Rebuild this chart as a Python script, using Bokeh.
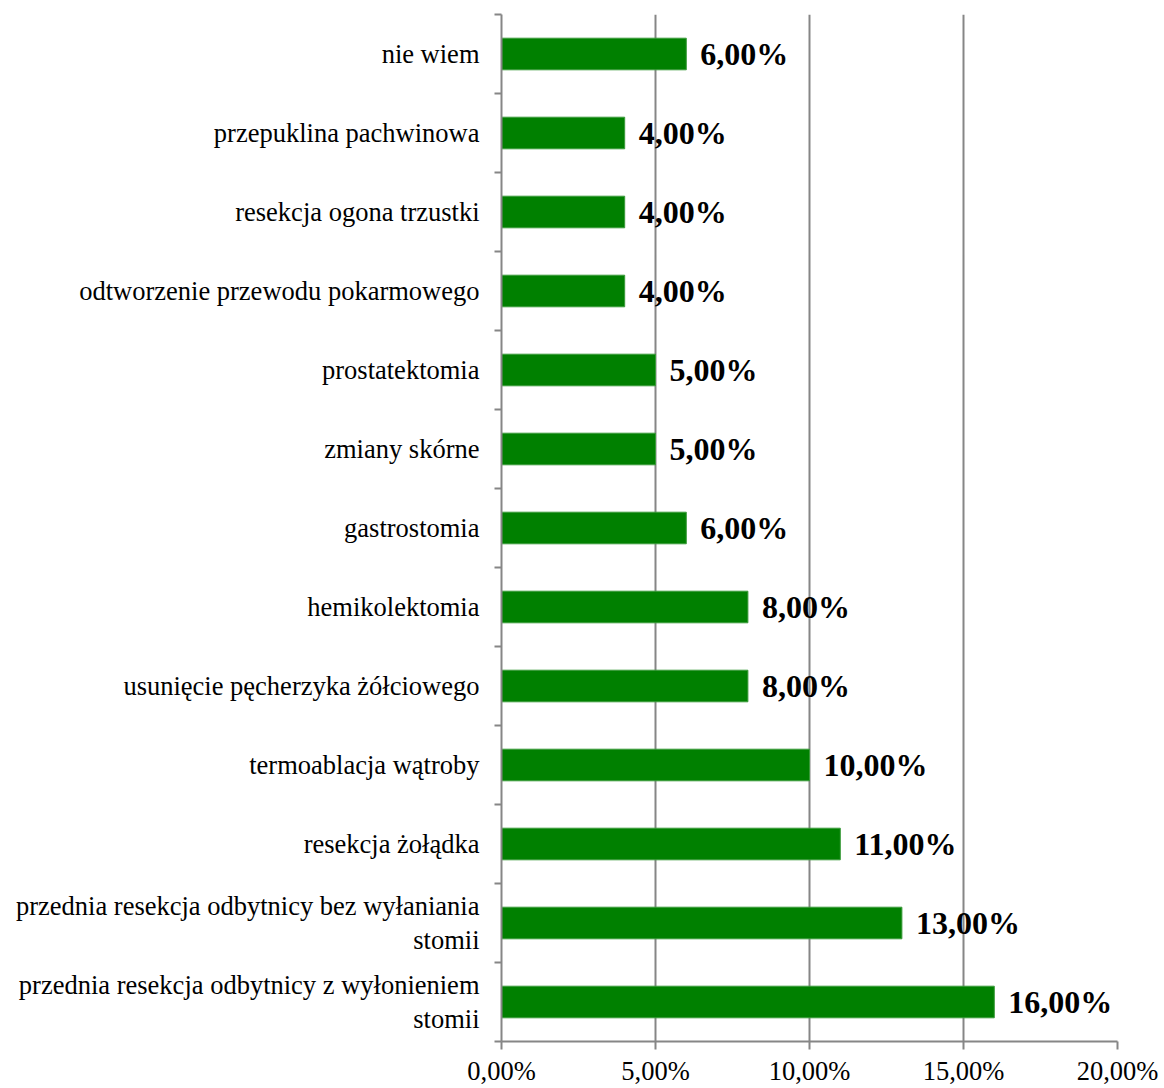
from bokeh.plotting import figure
from bokeh.models import FixedTicker, ColumnDataSource, Range1d
from bokeh.core.properties import value
from bokeh.embed import file_html
from bokeh.resources import INLINE

categories = [
    "przednia resekcja odbytnicy z wyłonieniem\nstomii",
    "przednia resekcja odbytnicy bez wyłaniania\nstomii",
    "resekcja żołądka",
    "termoablacja wątroby",
    "usunięcie pęcherzyka żółciowego",
    "hemikolektomia",
    "gastrostomia",
    "zmiany skórne",
    "prostatektomia",
    "odtworzenie przewodu pokarmowego",
    "resekcja ogona trzustki",
    "przepuklina pachwinowa",
    "nie wiem",
]
values = [16, 13, 11, 10, 8, 8, 6, 5, 5, 4, 4, 4, 6]
x_ticks = [0, 5, 10, 15, 20]
x_tick_labels = ["0,00%", "5,00%", "10,00%", "15,00%", "20,00%"]

value_labels = [("%.2f" % v).replace(".", ",") + "%" for v in values]
positions = [i + 1 for i in range(len(categories))]
boundaries = [i + 0.5 for i in range(len(categories) + 1)]

FONT = "Liberation Serif"
GRAY = "#868686"

src = ColumnDataSource(dict(y=positions, v=values, lab=value_labels))

p = figure(width=1164, height=1088, output_backend="svg", toolbar_location=None,
           x_range=Range1d(0, 20), y_range=Range1d(0.5, len(categories) + 0.5),
           min_border_left=501, min_border_top=14, min_border_right=47, min_border_bottom=30)
p.outline_line_color = None
p.background_fill_color = "white"
p.border_fill_color = "white"

p.hbar(y="y", left=0, right="v", height=0.4, source=src,
       fill_color="#008000", line_color="#3a9a3a", line_width=1)
p.text(x="v", y="y", text="lab", source=src, x_offset=14,
       text_baseline="middle", text_align="left",
       text_font=value(FONT), text_font_style="bold", text_font_size="32px",
       text_color="black")

# grids
p.ygrid.visible = False
p.xgrid.ticker = FixedTicker(ticks=x_ticks)
p.xgrid.grid_line_color = GRAY
p.xgrid.grid_line_width = 2

# x axis
xa = p.xaxis[0]
xa.ticker = FixedTicker(ticks=x_ticks, minor_ticks=[])
xa.major_label_overrides = {t: l for t, l in zip(x_ticks, x_tick_labels)}
xa.axis_line_color = GRAY
xa.axis_line_width = 2
xa.major_tick_line_color = GRAY
xa.major_tick_line_width = 2
xa.major_tick_out = 8
xa.major_tick_in = 0
xa.minor_tick_line_color = None
xa.major_label_standoff = 6
xa.major_label_text_font = FONT
xa.major_label_text_font_size = "26.5px"
xa.major_label_text_color = "black"

# y axis
ya = p.yaxis[0]
ya.ticker = FixedTicker(ticks=positions, minor_ticks=boundaries)
ya.major_label_overrides = {t: c for t, c in zip(positions, categories)}
ya.axis_line_color = GRAY
ya.axis_line_width = 2
ya.major_tick_line_color = None
ya.major_tick_out = 0
ya.major_tick_in = 0
ya.minor_tick_line_color = GRAY
ya.minor_tick_line_width = 2
ya.minor_tick_out = 7
ya.minor_tick_in = 0
ya.major_label_standoff = 15
ya.major_label_text_font = FONT
ya.major_label_text_font_size = "26.5px"
ya.major_label_text_color = "black"
ya.major_label_text_line_height = 1.15

open("out.html", "w").write(file_html(p, INLINE))
